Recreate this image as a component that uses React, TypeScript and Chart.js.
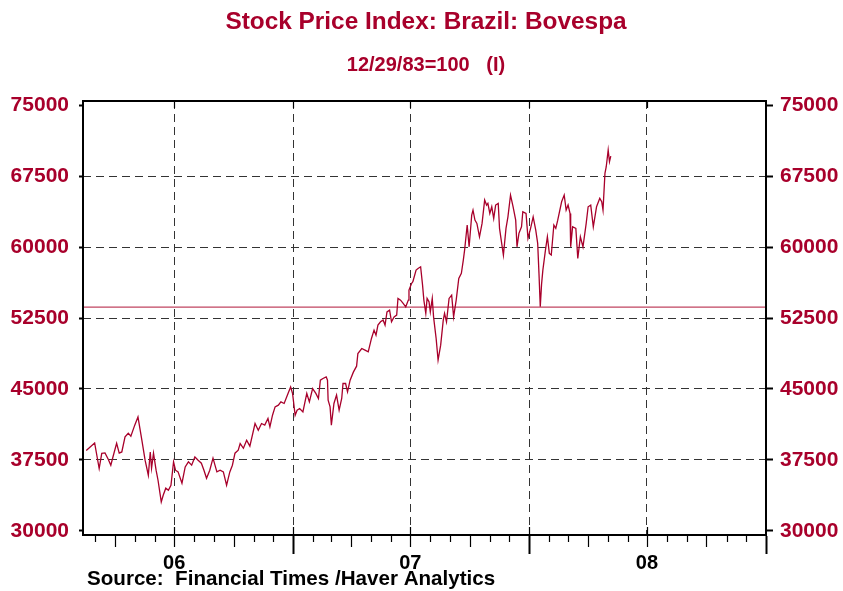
import React, { useEffect, useRef } from 'react';
import { Chart, registerables } from 'chart.js';

Chart.register(...registerables);

// ---------------- data ----------------
const TITLE = 'Stock Price Index: Brazil: Bovespa';
const SUBTITLE = '12/29/83=100   (I)';
const SOURCE = 'Source:  Financial Times /Haver Analytics';

const dates: string[] = [
  '2006-02-15','2006-02-28','2006-03-07','2006-03-11','2006-03-16','2006-03-21','2006-03-25','2006-03-29',
  '2006-04-03','2006-04-07','2006-04-11','2006-04-16','2006-04-21','2006-04-25','2006-05-01','2006-05-06',
  '2006-05-12','2006-05-17','2006-05-22','2006-05-25','2006-05-27','2006-05-30','2006-06-03','2006-06-06',
  '2006-06-11','2006-06-14','2006-06-18','2006-06-22','2006-06-26','2006-06-30','2006-07-03','2006-07-07',
  '2006-07-13','2006-07-18','2006-07-23','2006-07-28','2006-08-02','2006-08-07','2006-08-12','2006-08-16',
  '2006-08-20','2006-08-25','2006-08-30','2006-09-05','2006-09-10','2006-09-15','2006-09-20','2006-09-25',
  '2006-09-29','2006-10-03','2006-10-08','2006-10-11','2006-10-16','2006-10-21','2006-10-26','2006-11-03',
  '2006-11-08','2006-11-13','2006-11-18','2006-11-23','2006-11-26','2006-11-30','2006-12-04','2006-12-09',
  '2006-12-13','2006-12-18','2006-12-24','2006-12-28','2006-12-31','2007-01-04','2007-01-07','2007-01-11',
  '2007-01-16','2007-01-22','2007-01-26','2007-01-31','2007-02-05','2007-02-09','2007-02-12','2007-02-16',
  '2007-02-21','2007-02-23','2007-02-24','2007-02-27','2007-03-01','2007-03-05','2007-03-09','2007-03-13',
  '2007-03-17','2007-03-19','2007-03-23','2007-03-26','2007-03-30','2007-04-04','2007-04-09','2007-04-11',
  '2007-04-17','2007-04-22','2007-04-27','2007-05-02','2007-05-06','2007-05-09','2007-05-12','2007-05-16',
  '2007-05-20','2007-05-23','2007-05-26','2007-05-30','2007-06-02','2007-06-06','2007-06-10','2007-06-12',
  '2007-06-16','2007-06-20','2007-06-24','2007-06-28','2007-06-29','2007-07-03','2007-07-05','2007-07-10',
  '2007-07-13','2007-07-17','2007-07-20','2007-07-22','2007-07-25','2007-07-27','2007-07-30','2007-08-01',
  '2007-08-04','2007-08-06','2007-08-10','2007-08-13','2007-08-17','2007-08-21','2007-08-23','2007-08-26',
  '2007-08-30','2007-09-03','2007-09-06','2007-09-10','2007-09-14','2007-09-18','2007-09-21','2007-09-23',
  '2007-09-27','2007-09-30','2007-10-04','2007-10-06','2007-10-09','2007-10-12','2007-10-16','2007-10-20',
  '2007-10-24','2007-10-27','2007-10-29','2007-11-01','2007-11-04','2007-11-07','2007-11-10','2007-11-14',
  '2007-11-16','2007-11-19','2007-11-22','2007-11-26','2007-11-29','2007-12-03','2007-12-07','2007-12-11',
  '2007-12-13','2007-12-16','2007-12-20','2007-12-22','2007-12-27','2007-12-30','2008-01-03','2008-01-07',
  '2008-01-11','2008-01-14','2008-01-16','2008-01-18','2008-01-20','2008-01-22','2008-01-26','2008-01-29',
  '2008-02-01','2008-02-04','2008-02-08','2008-02-11','2008-02-14','2008-02-20','2008-02-24','2008-02-27',
  '2008-03-01','2008-03-04','2008-03-05','2008-03-08','2008-03-13','2008-03-16','2008-03-20','2008-03-24',
  '2008-03-29','2008-04-01','2008-04-05','2008-04-09','2008-04-14','2008-04-19','2008-04-22','2008-04-24',
  '2008-04-27','2008-04-29','2008-05-02','2008-05-04','2008-05-06',
];

const values: number[] = [
  38500,39300,36600,38200,38250,37580,36950,38000,
  39270,38220,38350,39940,40330,40010,41180,42050,
  39590,37480,35890,38350,36630,38220,36420,35360,
  33070,33780,34520,34300,34830,37300,36420,36240,
  35050,36770,37300,36950,37820,37480,37160,36420,
  35570,36420,37690,36240,36420,36240,34830,36240,
  36950,38220,38530,39240,38740,39590,38960,41350,
  40650,41350,41180,41880,41000,42230,43110,43290,
  43640,43470,44530,45220,44530,42230,42760,42940,
  42580,44530,43640,45050,44530,44000,45930,46110,
  46280,45930,43820,43110,41180,43470,44350,42760,
  44000,45580,45580,44700,45930,46780,47410,48750,
  49280,49100,48920,50340,51220,50690,51750,52100,
  52280,51750,53150,53330,52100,52620,52800,54570,
  54390,54040,53680,54390,55450,56150,56330,57560,
  57740,57910,55970,54390,52980,54570,54210,53150,
  54570,52620,50340,48050,49630,52280,52980,52100,
  54570,54920,52620,54390,56680,57210,58620,59670,
  62320,60020,63370,63900,62840,62490,61080,62490,
  64960,64430,64610,63550,64250,63020,64430,64610,
  61970,60550,59150,61970,63190,65490,64250,62840,
  60020,61440,62140,63720,63550,60910,61970,63190,
  61790,60380,57210,53680,56080,57560,59670,61080,
  59320,59150,62320,61970,62840,64780,65490,63900,
  64430,63550,60020,62140,61970,58800,61080,60020,
  62490,64250,64430,62140,64250,65140,64780,63900,
  67780,68480,70240,69010,69610,
];

const referenceLevel = 53650;
const yTickValues = [30000, 37500, 45000, 52500, 60000, 67500, 75000];
const yMin = 29575;
const yMax = 75425;
const xStart = '2006-02-10';
const xEnd = '2009-01-01';
const yearLabelYears = [2006, 2007, 2008];
const yearLabels = ['06', '07', '08'];

// ---------------- styling ----------------
const RED = '#a8002b';
const REF_RED = '#c04560';
const FONT = '"Liberation Sans", Arial, Helvetica, sans-serif';

const dayNum = (s: string) => {
  const [y, m, d] = s.split('-').map(Number);
  return Date.UTC(y, m - 1, d) / 86400000;
};
const ymd = (y: number, m: number) => Date.UTC(y, m, 1) / 86400000;

const xMinNum = dayNum(xStart);
const xMaxNum = dayNum(xEnd);

// half-year grid positions (Jan 1 / Jul 1) and year labels at mid-year
const halfYearTicks: { value: number; label: string }[] = [];
for (let y = 2006; y <= 2009; y++) {
  for (const m of [0, 6]) {
    const v = ymd(y, m);
    if (v >= xMinNum && v <= xMaxNum) {
      const idx = m === 6 ? yearLabelYears.indexOf(y) : -1;
      halfYearTicks.push({ value: v, label: idx >= 0 ? yearLabels[idx] : '' });
    }
  }
}

const framePlugin = {
  id: 'haverFrame',
  afterDraw(chart: any) {
    const { ctx, chartArea } = chart;
    const xs = chart.scales.x;
    const { left, right, top, bottom } = chartArea;
    ctx.save();
    // frame
    ctx.strokeStyle = '#000';
    ctx.lineWidth = 2;
    ctx.setLineDash([]);
    ctx.strokeRect(left, top, right - left, bottom - top);

    // monthly ticks below the axis
    for (let y = 2006; y <= 2009; y++) {
      for (let m = 0; m < 12; m++) {
        const v = ymd(y, m);
        if (v < xMinNum || v > xMaxNum) continue;
        const px = Math.round(xs.getPixelForValue(v)) + 0.5;
        let len = 6;
        if (m === 0) len = 18;
        else if (m % 3 === 0) len = 11;
        ctx.lineWidth = m === 0 ? 2 : 1.2;
        ctx.beginPath();
        ctx.moveTo(px, bottom + 1);
        ctx.lineTo(px, bottom + 1 + len);
        ctx.stroke();
      }
    }
    // inner ticks at half-year positions
    ctx.lineWidth = 1.2;
    for (const t of halfYearTicks) {
      if (t.value >= xMaxNum) continue;
      const px = Math.round(xs.getPixelForValue(t.value)) + 0.5;
      ctx.beginPath();
      ctx.moveTo(px, top);
      ctx.lineTo(px, top + 7);
      ctx.moveTo(px, bottom);
      ctx.lineTo(px, bottom - 8);
      ctx.stroke();
    }

    // texts
    const cx = (left + right) / 2 + 1.5;
    ctx.fillStyle = RED;
    ctx.textAlign = 'center';
    ctx.textBaseline = 'middle';
    ctx.font = `bold 24.4px ${FONT}`;
    ctx.fillText(TITLE, cx, 22);
    ctx.font = `bold 20px ${FONT}`;
    ctx.fillText(SUBTITLE, cx, 65);
    ctx.fillStyle = '#000';
    ctx.textAlign = 'left';
    ctx.font = `bold 20.6px ${FONT}`;
    ctx.fillText(SOURCE, 87, 579);
    ctx.restore();
  },
};

const transparent = 'rgba(0,0,0,0)';

export default function App() {
  const canvasRef = useRef<HTMLCanvasElement | null>(null);

  useEffect(() => {
    const canvas = canvasRef.current;
    if (!canvas) return;
    const points = dates.map((d, i) => ({ x: dayNum(d), y: values[i] }));
    const chart = new Chart(canvas, {
      type: 'line',
      data: {
        datasets: [
          {
            label: 'Bovespa',
            data: points,
            borderColor: RED,
            borderWidth: 1.3,
            pointRadius: 0,
            tension: 0,
            order: 1,
          },
          {
            label: 'Reference',
            data: [
              { x: xMinNum, y: referenceLevel },
              { x: xMaxNum, y: referenceLevel },
            ],
            borderColor: REF_RED,
            borderWidth: 1.2,
            pointRadius: 0,
            order: 2,
          },
        ],
      },
      options: {
        responsive: false,
        animation: false,
        devicePixelRatio: 1,
        layout: { padding: { top: 101, left: 0, right: 0, bottom: 0 } },
        plugins: {
          legend: { display: false },
          tooltip: { enabled: false },
          title: { display: false },
        },
        scales: {
          x: {
            type: 'linear',
            position: 'bottom',
            min: xMinNum,
            max: xMaxNum,
            afterBuildTicks: (s: any) => {
              s.ticks = halfYearTicks.map((t) => ({ value: t.value }));
            },
            afterFit: (s: any) => {
              s.height = 56;
            },
            ticks: {
              autoSkip: false,
              maxRotation: 0,
              padding: 16,
              color: '#000',
              font: { family: FONT, size: 20, weight: 'bold' },
              callback: (v: any) => {
                const t = halfYearTicks.find((h) => h.value === v);
                return t ? t.label : '';
              },
            },
            grid: {
              drawTicks: false,
              lineWidth: 1,
              color: (c: any) =>
                c.tick && c.tick.value < xMaxNum ? '#333333' : transparent,
            },
            border: { display: false, dash: [8, 5] },
          },
          y: {
            type: 'linear',
            position: 'left',
            min: yMin,
            max: yMax,
            afterBuildTicks: (s: any) => {
              s.ticks = yTickValues.map((v) => ({ value: v }));
            },
            afterFit: (s: any) => {
              s.width = 83;
            },
            ticks: {
              padding: 10,
              color: RED,
              font: { family: FONT, size: 21, weight: 'bold' },
              callback: (v: any) => String(v),
            },
            grid: {
              lineWidth: 1,
              tickLength: 4,
              tickWidth: 2,
              tickColor: '#000',
              color: (c: any) =>
                c.tick && (c.tick.value === 30000 || c.tick.value === 75000)
                  ? transparent
                  : '#333333',
            },
            border: { display: false, dash: [8, 5] },
          },
          y2: {
            type: 'linear',
            position: 'right',
            min: yMin,
            max: yMax,
            afterBuildTicks: (s: any) => {
              s.ticks = yTickValues.map((v) => ({ value: v }));
            },
            afterFit: (s: any) => {
              s.width = 77;
            },
            ticks: {
              padding: 7,
              color: RED,
              font: { family: FONT, size: 21, weight: 'bold' },
              callback: (v: any) => String(v),
            },
            grid: {
              drawOnChartArea: false,
              tickLength: 7,
              tickWidth: 2,
              tickColor: '#000',
            },
            border: { display: false },
          },
        },
      },
      plugins: [framePlugin],
    } as any);
    return () => chart.destroy();
  }, []);

  return (
    <div style={{ position: 'absolute', left: 0, top: 0, width: 843, height: 591, background: '#fff' }}>
      <canvas ref={canvasRef} width={843} height={591} style={{ display: 'block' }} />
    </div>
  );
}
